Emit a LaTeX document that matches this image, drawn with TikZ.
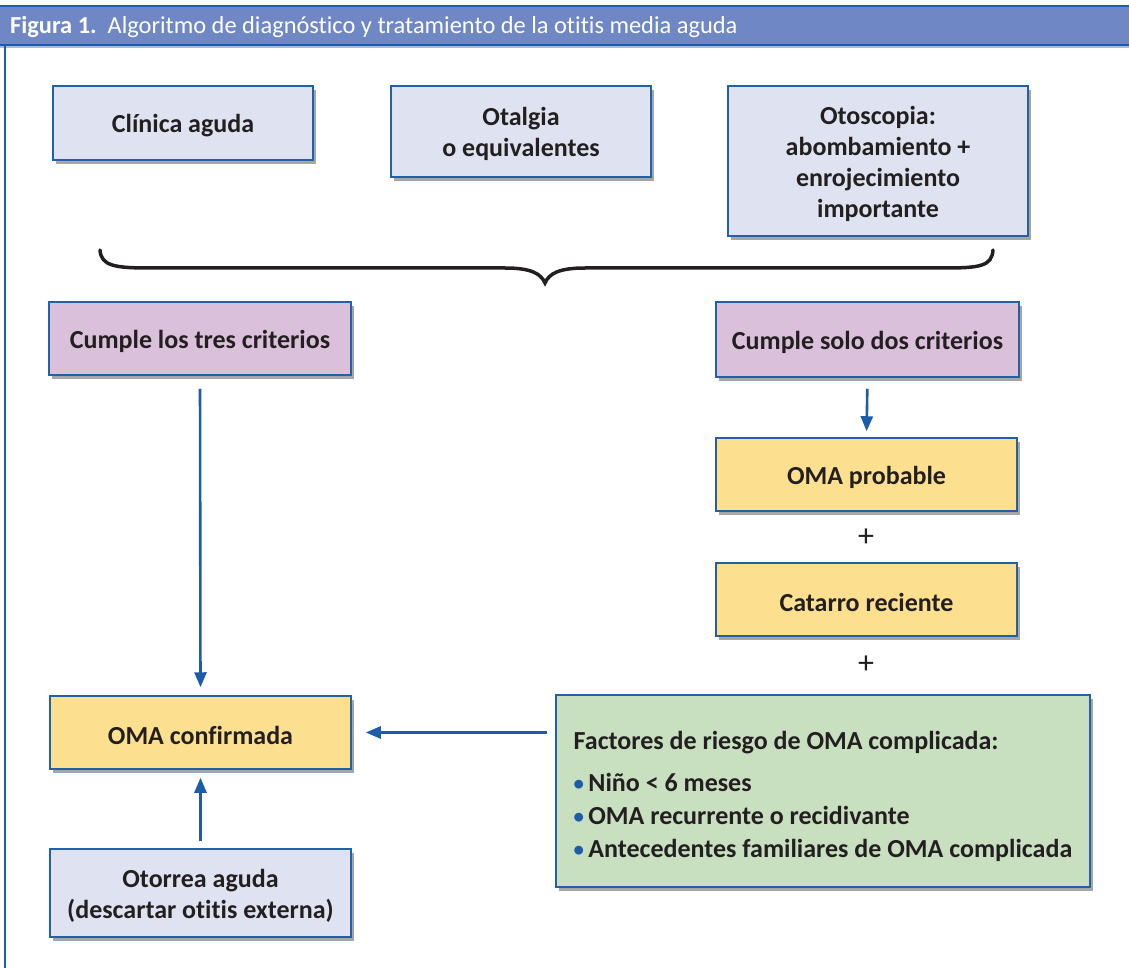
\documentclass[tikz,border=0pt]{standalone}
\usepackage{fontspec}
\setmainfont{Carlito}[Ligatures=NoCommon]
\usetikzlibrary{arrows.meta,shadows}
\definecolor{hdr}{HTML}{6F87C4}
\definecolor{hdrline}{HTML}{1F5BAA}
\definecolor{bord}{HTML}{2260A8}
\definecolor{fblue}{HTML}{DFE3F1}
\definecolor{fpurp}{HTML}{DBC0DC}
\definecolor{fyel}{HTML}{FDE08F}
\definecolor{fgreen}{HTML}{C8DFC0}
\definecolor{arrc}{HTML}{1D5CA8}
\definecolor{txt}{HTML}{231F20}
\newcommand{\bul}{{\color{arrc}\raisebox{1pt}{\scalebox{0.8}{\textbullet}}}\,}
\tikzset{
  box/.style={draw=bord, line width=1.5pt, align=center, inner sep=0pt,
    font=\fontsize{26}{31}\selectfont\bfseries, text=txt,
    drop shadow={shadow xshift=3pt, shadow yshift=-4pt, fill=black, opacity=0.35}},
  bluebox/.style={box, fill=fblue},
  purpbox/.style={box, fill=fpurp},
  yelbox/.style={box, fill=fyel},
  greenbox/.style={box, fill=fgreen},
  arr/.style={draw=arrc, line width=2.6pt, -{Triangle[length=15pt,width=12pt]}},
  plus/.style={font=\fontsize{32}{32}\selectfont, text=txt, inner sep=0pt}
}
\begin{document}
\begin{tikzpicture}[x=1pt,y=-1pt]
\useasboundingbox (0,0) rectangle (1129,968);
% header
\fill[hdr] (0,6) rectangle (1129,45);
\draw[hdrline, line width=1.5pt] (0,6) -- (1129,6);
\draw[hdrline, line width=1.5pt] (0,45) -- (1129,45);
\draw[hdrline!40, line width=1.5pt] (0,47) -- (1129,47);
\draw[hdrline, line width=1.5pt] (5,46) -- (5,968);
\node[anchor=west, text=white, font=\fontsize{24.4}{28}\selectfont, inner sep=0pt] (title) at (10,27)
  {\textbf{Figura 1.}\ \ Algoritmo de diagnóstico y tratamiento de la otitis media aguda};
% top boxes
\node[bluebox, minimum width=260pt, minimum height=74pt] (clin) at (183,123) {\rule{0pt}{24pt}Clínica aguda};
\node[bluebox, minimum width=260pt, minimum height=91pt] (otal) at (521,131.5) {\rule{0pt}{24pt}Otalgia\\o equivalentes};
\node[bluebox, minimum width=300pt, minimum height=150pt] (otos) at (878,161) {\rule{0pt}{24pt}Otoscopia:\\abombamiento +\\enrojecimiento\\importante};
% brace
\draw[line width=3.5pt, txt, line cap=round] (100,250) .. controls (101,266) and (115,268) .. (150,268) -- (505,268)
  .. controls (532,268) and (541,274) .. (545,283)
  .. controls (549,274) and (558,268) .. (585,268) -- (945,268)
  .. controls (980,268) and (992,266) .. (993,250);
% criteria
\node[purpbox, minimum width=302pt, minimum height=73pt] (tres) at (200,338.5) {\rule{0pt}{24pt}Cumple los tres criterios};
\node[purpbox, minimum width=303pt, minimum height=75pt] (dos) at (867.5,339.5) {\rule{0pt}{24pt}Cumple solo dos criterios};
\node[yelbox, minimum width=301pt, minimum height=73pt] (prob) at (866.5,474.5) {\rule{0pt}{24pt}OMA probable};
\node[plus] (p1) at (866,538) {+};
\node[yelbox, minimum width=301pt, minimum height=73pt] (cat) at (866.5,599.5) {\rule{0pt}{24pt}Catarro reciente};
\node[plus] (p2) at (866,665) {+};
\node[greenbox, minimum width=534pt, minimum height=192pt, align=left] (fact) at (823,791)
  {\rule{0pt}{30pt}Factores de riesgo de OMA complicada:\\[11pt]
   \bul Niño < 6 meses\\[2pt]
   \bul OMA recurrente o recidivante\\[2pt]
   \bul Antecedentes familiares de OMA complicada};
\node[yelbox, minimum width=301pt, minimum height=73pt] (conf) at (200.5,732.5) {\rule{0pt}{24pt}OMA confirmada};
\node[bluebox, minimum width=301pt, minimum height=88pt] (otor) at (200.5,893) {\rule{0pt}{24pt}Otorrea aguda\\(descartar otitis externa)};
% arrows
\draw[arr, shorten <=13pt, shorten >=8pt] (tres.south) -- (conf.north);
\draw[arr, shorten <=11pt, shorten >=6pt] (dos.south) -- (prob.north);
\draw[arr, shorten <=8pt, shorten >=14pt] (fact.west |- conf.east) -- (conf.east);
\draw[arr, shorten <=7pt, shorten >=8pt] (otor.north) -- (conf.south);
\end{tikzpicture}
\end{document}
